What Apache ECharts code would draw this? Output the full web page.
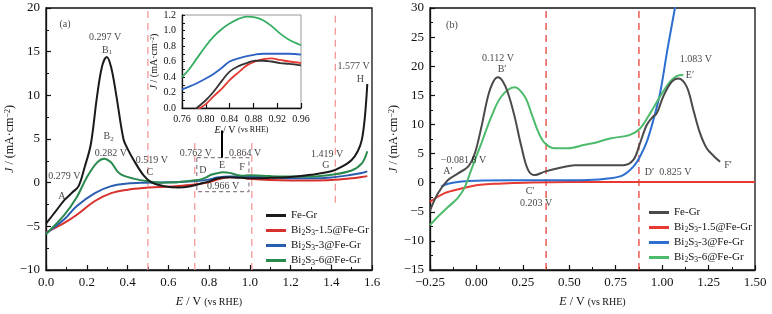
<!DOCTYPE html>
<html>
<head>
<meta charset="utf-8">
<script src="https://cdn.jsdelivr.net/npm/echarts@6/dist/echarts.min.js"></script>
<style>
  html, body { margin: 0; padding: 0; background: #fff; }
  #chart { width: 772px; height: 314px; }
</style>
</head>
<body>
<div id="chart"></div>
<script>
const FONT = 'Liberation Serif';

// ---- panel (a) ----
const aFeGrE = [0, 0.05, 0.09, 0.13, 0.16, 0.19, 0.22, 0.25, 0.275, 0.298, 0.32, 0.345, 0.38, 0.40, 0.43, 0.48, 0.52, 0.58, 0.65, 0.71, 0.76, 0.8, 0.84, 0.87, 0.9, 0.96, 1.0, 1.1, 1.2, 1.3, 1.4, 1.45, 1.5, 1.53, 1.55, 1.565, 1.577];
const aFeGrJ = [-4.7, -3.2, -2.0, -1.1, -0.4, 1.8, 4.4, 9.8, 13.3, 14.4, 13.2, 10.0, 5.0, 3.9, 2.6, 0.8, 0.0, -0.4, -0.55, -0.4, -0.1, 0.15, 0.47, 0.58, 0.61, 0.55, 0.5, 0.55, 0.65, 0.9, 1.3, 1.8, 2.6, 3.6, 4.9, 7.5, 11.3];
const aBi15E = [0, 0.09, 0.15, 0.24, 0.32, 0.4, 0.48, 0.56, 0.64, 0.72, 0.78, 0.81, 0.84, 0.87, 0.9, 0.93, 0.96, 1.0, 1.1, 1.2, 1.3, 1.4, 1.5, 1.55, 1.577];
const aBi15J = [-5.7, -4.6, -3.7, -2.1, -1.2, -0.8, -0.6, -0.5, -0.4, -0.25, -0.05, 0.12, 0.36, 0.53, 0.63, 0.62, 0.58, 0.45, 0.3, 0.25, 0.25, 0.3, 0.5, 0.65, 0.75];
const aBi3E = [0, 0.09, 0.15, 0.24, 0.32, 0.4, 0.48, 0.56, 0.64, 0.72, 0.76, 0.79, 0.81, 0.84, 0.87, 0.9, 0.93, 0.96, 1.0, 1.1, 1.2, 1.3, 1.4, 1.5, 1.55, 1.577];
const aBi3J = [-5.8, -4.2, -2.7, -1.2, -0.4, -0.1, 0.0, 0.03, 0.05, 0.15, 0.24, 0.32, 0.42, 0.6, 0.67, 0.70, 0.70, 0.69, 0.68, 0.6, 0.5, 0.5, 0.6, 0.9, 1.1, 1.3];
const aBi6E = [0, 0.09, 0.15, 0.2, 0.25, 0.285, 0.32, 0.35, 0.38, 0.43, 0.5, 0.56, 0.64, 0.72, 0.76, 0.79, 0.81, 0.84, 0.87, 0.9, 0.93, 0.96, 1.0, 1.1, 1.2, 1.3, 1.4, 1.5, 1.55, 1.577];
const aBi6J = [-5.9, -3.7, -1.7, 0.6, 2.3, 2.75, 2.3, 1.3, 0.8, 0.46, 0.15, 0.0, 0.05, 0.25, 0.38, 0.65, 0.9, 1.09, 1.18, 1.12, 0.93, 0.8, 0.85, 0.75, 0.7, 0.7, 0.9, 1.4, 2.2, 3.6];

// inset of (a)
const insetE = [0.76, 0.77, 0.785, 0.8, 0.813, 0.827, 0.84, 0.855, 0.869, 0.883, 0.897, 0.91, 0.925, 0.94, 0.96];
const insetFeGrJ = [-0.2, -0.12, 0.0, 0.1, 0.21, 0.35, 0.47, 0.54, 0.58, 0.61, 0.61, 0.6, 0.58, 0.57, 0.55];
const insetBi15J = [-0.25, -0.17, -0.03, 0.05, 0.15, 0.25, 0.36, 0.46, 0.55, 0.6, 0.63, 0.64, 0.62, 0.6, 0.58];
const insetBi3J = [0.24, 0.27, 0.32, 0.38, 0.44, 0.52, 0.6, 0.64, 0.67, 0.69, 0.70, 0.70, 0.70, 0.70, 0.69];
const insetBi6J = [0.40, 0.48, 0.64, 0.8, 0.92, 1.02, 1.09, 1.15, 1.18, 1.17, 1.13, 1.06, 0.96, 0.88, 0.81];

// ---- panel (b) ----
const bFeGrE = [-0.25, -0.207, -0.153, -0.099, -0.045, -0.009, 0.027, 0.062, 0.09, 0.116, 0.14, 0.17, 0.206, 0.242, 0.278, 0.314, 0.368, 0.457, 0.529, 0.65, 0.79, 0.845, 0.881, 0.917, 0.95, 0.971, 1.006, 1.051, 1.087, 1.132, 1.168, 1.204, 1.24, 1.28, 1.312];
const bFeGrJ = [-4.8, -1.8, 0.46, 1.6, 2.75, 5.0, 9.6, 14.8, 17.3, 18.1, 17.5, 15.4, 11.3, 6.2, 2.2, 1.3, 1.9, 2.6, 3.0, 3.0, 3.0, 3.9, 6.8, 9.9, 11.3, 11.9, 14.8, 17.3, 17.9, 16.5, 12.5, 8.5, 5.9, 4.5, 3.6];
const bBi15E = [-0.25, -0.171, -0.081, 0.009, 0.098, 0.2, 0.3, 0.5, 0.8, 1.1, 1.5];
const bBi15J = [-3.3, -1.8, -1.0, -0.4, -0.2, -0.05, 0.05, 0.1, 0.1, 0.1, 0.1];
const bBi3E = [-0.19, -0.153, -0.08, 0.0, 0.2, 0.4, 0.6, 0.72, 0.79, 0.845, 0.881, 0.917, 0.953, 0.989, 1.028, 1.069, 1.08];
const bBi3J = [-0.7, -0.2, 0.2, 0.35, 0.4, 0.4, 0.45, 0.75, 1.3, 2.75, 4.5, 7.0, 10.8, 15.4, 22.8, 30, 32];
const bBi6E = [-0.25, -0.2, -0.15, -0.1, -0.063, -0.028, 0.027, 0.08, 0.134, 0.206, 0.26, 0.296, 0.332, 0.368, 0.422, 0.493, 0.583, 0.655, 0.719, 0.827, 0.881, 0.935, 0.989, 1.042, 1.078, 1.114];
const bBi6J = [-7.3, -5.6, -4.1, -2.6, -0.8, 2.2, 6.8, 11.3, 14.8, 16.4, 14.8, 11.9, 8.8, 6.8, 5.9, 5.9, 6.5, 7.0, 7.6, 8.2, 9.3, 11.9, 14.8, 17.3, 18.3, 18.5];

// dashed guide lines: [E, J from, J to]
const refLinesA = [[0.5, -10, 19.8], [0.73, -10, 4.6], [1.01, -10, 4.6], [1.42, -2.3, 19.5]];
const refLinesB = [[0.375, -15, 30], [0.875, -15, 30]];
const zoomBoxA = { e0: 0.74, e1: 0.996, j0: -1.03, j1: 2.86, arrowTop: 5.96, arrowE: 0.864 };

// text labels: [text, E, J]
const annotA = [
  ['(a)', 0.093, 18.1], ['0.297 V', 0.29, 16.6], ['B{s|1}', 0.3, 15.2],
  ['B{s|2}', 0.307, 5.3], ['0.282 V', 0.318, 3.4], ['0.519 V', 0.52, 2.6], ['C', 0.51, 1.15],
  ['0.279 V', 0.09, 0.7], ['A', 0.078, -1.6], ['0.762 V', 0.736, 3.3], ['0.864 V', 0.977, 3.3],
  ['D', 0.77, 1.4], ['E', 0.864, 1.95], ['F', 0.962, 1.7], ['0.966 V', 0.869, -0.46],
  ['1.419 V', 1.38, 3.2], ['G', 1.374, 1.95], ['1.577 V', 1.51, 13.3], ['H', 1.543, 11.8]
];
const annotB = [
  ['(b)', -0.132, 27.1], ['0.112 V', 0.116, 21.4], ['B′', 0.138, 19.4],
  ['−0.081 8 V', -0.07, 3.8], ['A′', -0.153, 1.9], ['C′', 0.289, -1.5], ['0.203 V', 0.321, -3.5],
  ['1.083 V', 1.182, 21.1], ['E′', 1.15, 18.5], ['D′  0.825 V', 1.032, 1.8], ['F′', 1.355, 3.0]
];

const legendNames = {
  'Fe-Gr': 'Fe-Gr',
  'Bi15': 'Bi{s|2}S{s|3}-1.5@Fe-Gr',
  'Bi3': 'Bi{s|2}S{s|3}-3@Fe-Gr',
  'Bi6': 'Bi{s|2}S{s|3}-6@Fe-Gr'
};

const pairs = (xs, ys) => xs.map((x, i) => [x, ys[i]]);
const subRich = { s: { fontSize: 7.5, lineHeight: 8, verticalAlign: 'bottom', fontFamily: FONT } };

function curve(name, idx, xs, ys, color, w) {
  return {
    name: name, type: 'line', xAxisIndex: idx, yAxisIndex: idx,
    data: pairs(xs, ys), smooth: 0.35, symbol: 'none', clip: true,
    lineStyle: { color: color, width: w || 2 }, itemStyle: { color: color }, z: 3
  };
}
function guide(idx, l, color) {
  return {
    type: 'line', xAxisIndex: idx, yAxisIndex: idx, data: [[l[0], l[1]], [l[0], l[2]]],
    symbol: 'none', silent: true, z: 2,
    lineStyle: { color: color, width: 1.3, type: [7, 5] }
  };
}
function labels(idx, list) {
  return {
    type: 'scatter', xAxisIndex: idx, yAxisIndex: idx, symbolSize: 0, silent: true, z: 5,
    data: list.map(a => ({ value: [a[1], a[2]], label: { formatter: a[0] } })),
    label: {
      show: true, position: 'inside', color: '#111', fontFamily: FONT, fontSize: 10,
      lineHeight: 12, rich: { s: { fontSize: 7, lineHeight: 7, verticalAlign: 'bottom', fontFamily: FONT } }
    }
  };
}
function axis(idx, o) {
  return Object.assign({
    type: 'value', gridIndex: idx,
    axisLine: { show: true, onZero: false, lineStyle: { color: '#111', width: 1.3 } },
    axisTick: { show: true, inside: true, length: 5, lineStyle: { color: '#111', width: 1.2 } },
    minorTick: { show: true, splitNumber: 2, length: 3, lineStyle: { color: '#111', width: 1 } },
    splitLine: { show: false },
    nameLocation: 'middle'
  }, o);
}
const tickLabel = (fmt, size) => ({
  color: '#111', fontFamily: FONT, fontSize: size || 13, margin: 6, hideOverlap: false,
  showMinLabel: true, showMaxLabel: true, formatter: fmt
});
const minus = s => s.replace('-', '−');
const nameStyle = size => ({
  color: '#111', fontFamily: FONT, fontSize: size,
  rich: {
    i: { fontStyle: 'italic', fontFamily: FONT, fontSize: size },
    p: { fontFamily: FONT, fontSize: size - 2 },
    sup: { fontFamily: FONT, fontSize: size - 4, verticalAlign: 'top', lineHeight: size - 4 }
  }
});
const yName = '{i|J} / (mA·cm{sup|−2})';
const xName = '{i|E} / V {p|(vs RHE)}';
const legendText = { color: '#111', fontFamily: FONT, fontSize: 11, lineHeight: 13, rich: subRich };

const chart = echarts.init(document.getElementById('chart'), null, { renderer: 'canvas' });

const option = {
  animation: false,
  backgroundColor: '#fff',
  grid: [
    { left: 46, top: 8, width: 326, height: 262, show: true, borderColor: '#111', borderWidth: 1.3, outerBoundsMode: 'none' },
    { left: 430, top: 8, width: 325, height: 262, show: true, borderColor: '#111', borderWidth: 1.3, outerBoundsMode: 'none' },
    { left: 182, top: 15, width: 119, height: 93, show: true, backgroundColor: '#fff', borderColor: '#999', borderWidth: 1, outerBoundsMode: 'none' }
  ],
  xAxis: [
    axis(0, { min: 0, max: 1.6, interval: 0.2, axisLabel: tickLabel(v => v.toFixed(1)), name: xName, nameGap: 26, nameTextStyle: nameStyle(12) }),
    axis(1, { min: -0.25, max: 1.5, interval: 0.25, axisLabel: tickLabel(v => minus(v.toFixed(2))), name: xName, nameGap: 26, nameTextStyle: nameStyle(12) }),
    axis(2, { min: 0.76, max: 0.96, interval: 0.04, axisLabel: tickLabel(v => v.toFixed(2), 10), name: xName, nameGap: 13, nameTextStyle: nameStyle(10), minorTick: { show: false } })
  ],
  yAxis: [
    axis(0, { min: -10, max: 20, interval: 5, axisLabel: tickLabel(v => minus(String(v))), name: yName, nameGap: 23, nameTextStyle: nameStyle(12) }),
    axis(1, { min: -15, max: 30, interval: 5, axisLabel: tickLabel(v => minus(String(v))), name: yName, nameGap: 23, nameTextStyle: nameStyle(12) }),
    axis(2, { min: 0, max: 1.2, interval: 0.2, axisLabel: tickLabel(v => v.toFixed(1), 10), name: yName, nameGap: 20, nameTextStyle: nameStyle(10), axisTick: { show: true, inside: true, length: 3, lineStyle: { color: '#111' } } })
  ],
  legend: [
    {
      data: ['a:Fe-Gr', 'a:Bi15', 'a:Bi3', 'a:Bi6'], orient: 'vertical', left: 261, top: 204,
      icon: 'rect', itemWidth: 20, itemHeight: 3, itemGap: 2,
      formatter: n => legendNames[n.slice(2)], textStyle: legendText
    },
    {
      data: ['b:Fe-Gr', 'b:Bi15', 'b:Bi3', 'b:Bi6'], orient: 'vertical', left: 644, top: 201,
      icon: 'rect', itemWidth: 20, itemHeight: 3, itemGap: 2,
      formatter: n => legendNames[n.slice(2)], textStyle: legendText
    }
  ],
  series: [
    ...refLinesA.map(l => guide(0, l, '#f19a9a')),
    ...refLinesB.map(l => guide(1, l, '#e8403a')),
    {
      type: 'line', xAxisIndex: 0, yAxisIndex: 0, symbol: 'none', silent: true, z: 2,
      data: [[zoomBoxA.e0, zoomBoxA.j1], [zoomBoxA.e1, zoomBoxA.j1], [zoomBoxA.e1, zoomBoxA.j0], [zoomBoxA.e0, zoomBoxA.j0], [zoomBoxA.e0, zoomBoxA.j1]],
      lineStyle: { color: '#8f7f8c', width: 1.2, type: [4, 3] },
      markLine: {
        silent: true, symbol: ['none', 'arrow'], symbolSize: [0, 10], label: { show: false },
        lineStyle: { color: '#000', width: 2, type: 'solid' },
        data: [[{ coord: [zoomBoxA.arrowE, zoomBoxA.j1] }, { coord: [zoomBoxA.arrowE, zoomBoxA.arrowTop] }]]
      }
    },
    curve('a:Bi15', 0, aBi15E, aBi15J, '#d8302c'),
    curve('a:Bi3', 0, aBi3E, aBi3J, '#2a5db0'),
    curve('a:Bi6', 0, aBi6E, aBi6J, '#2a8a4e'),
    curve('a:Fe-Gr', 0, aFeGrE, aFeGrJ, '#1a1a1a'),
    curve('in:Bi15', 2, insetE, insetBi15J, '#e53a33', 1.8),
    curve('in:Bi3', 2, insetE, insetBi3J, '#2d62c4', 1.8),
    curve('in:Bi6', 2, insetE, insetBi6J, '#35ae62', 1.8),
    curve('in:Fe-Gr', 2, insetE, insetFeGrJ, '#333', 1.8),
    curve('b:Bi15', 1, bBi15E, bBi15J, '#e83a33'),
    curve('b:Bi3', 1, bBi3E, bBi3J, '#2d6fd0'),
    curve('b:Bi6', 1, bBi6E, bBi6J, '#4dbb6c'),
    curve('b:Fe-Gr', 1, bFeGrE, bFeGrJ, '#4a4a4a'),
    labels(0, annotA),
    labels(1, annotB)
  ]
};

chart.setOption(option);
</script>
</body>
</html>
